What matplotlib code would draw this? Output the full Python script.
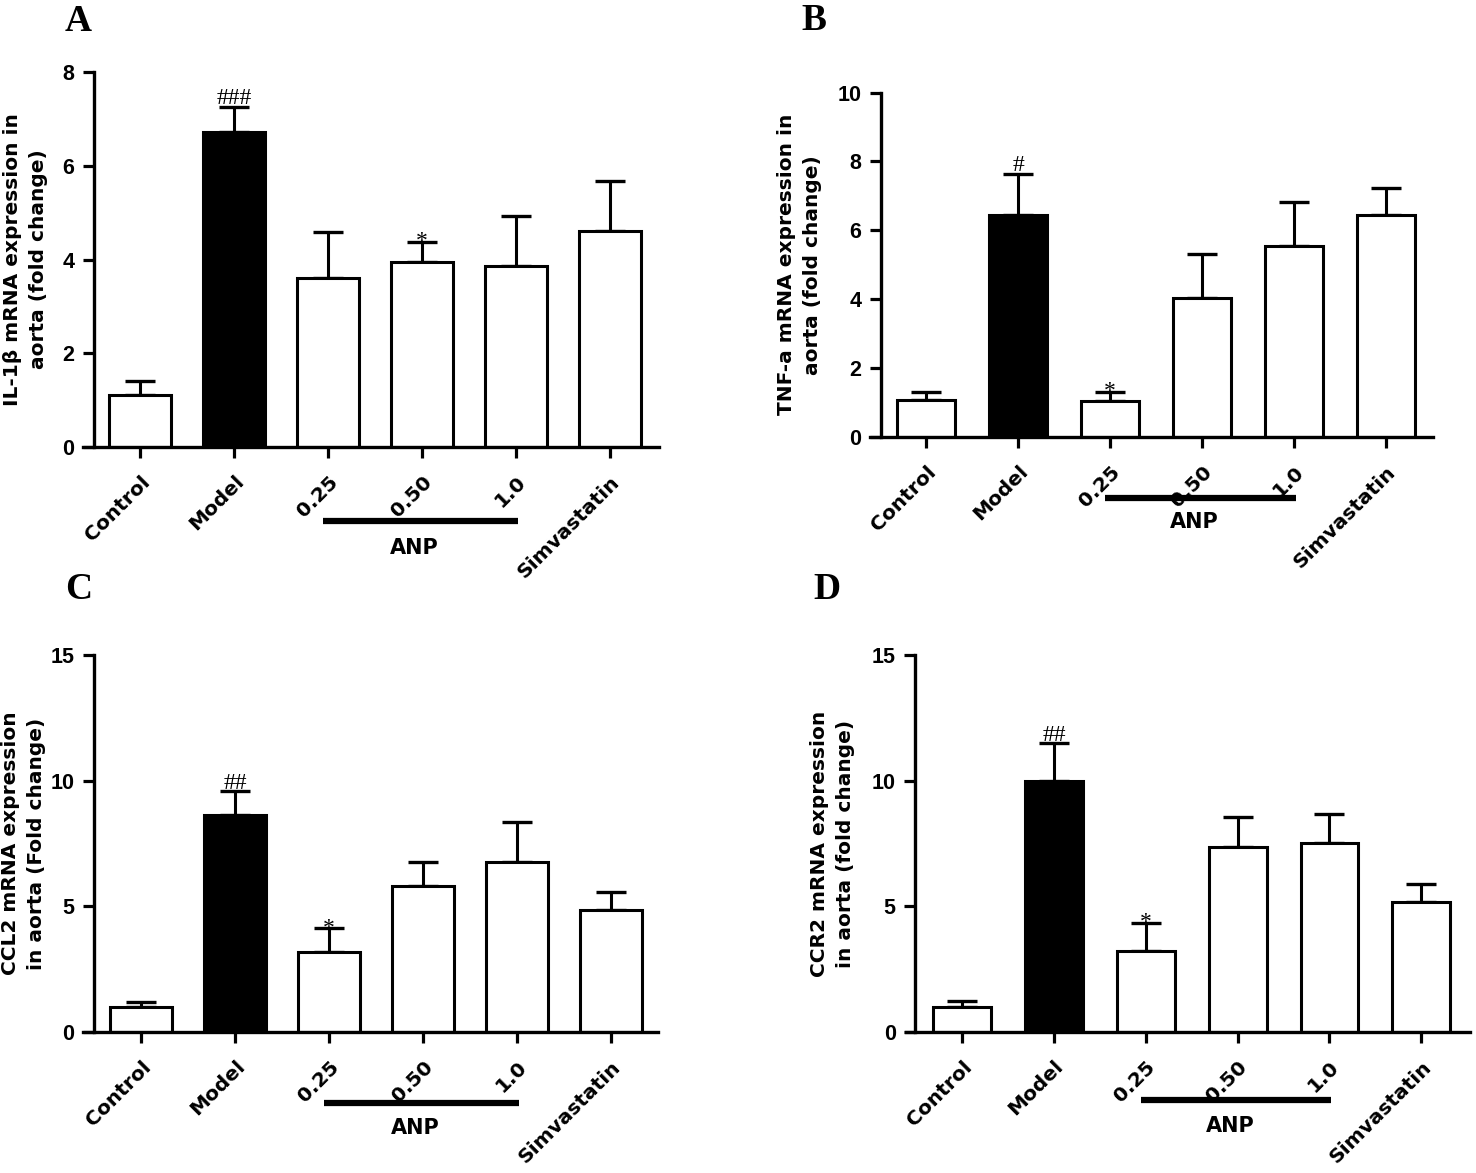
import matplotlib
matplotlib.use("Agg")
import matplotlib.pyplot as plt
import matplotlib.transforms as mtransforms
import numpy as np

# ---------------- data ----------------
categories = ["Control", "Model", "0.25", "0.50", "1.0", "Simvastatin"]
anp_group = [2, 3, 4]  # indices of the ANP doses

il1b_mean = [1.12, 6.73, 3.61, 3.95, 3.86, 4.60]
il1b_sem = [0.29, 0.52, 0.98, 0.43, 1.07, 1.07]
il1b_sig = ["", "###", "", "*", "", ""]

tnfa_mean = [1.08, 6.45, 1.05, 4.05, 5.56, 6.45]
tnfa_sem = [0.23, 1.18, 0.27, 1.26, 1.27, 0.79]
tnfa_sig = ["", "#", "*", "", "", ""]

ccl2_mean = [0.98, 8.64, 3.17, 5.81, 6.76, 4.87]
ccl2_sem = [0.20, 0.93, 0.95, 0.96, 1.61, 0.69]
ccl2_sig = ["", "##", "*", "", "", ""]

ccr2_mean = [1.00, 9.97, 3.21, 7.35, 7.53, 5.17]
ccr2_sem = [0.24, 1.51, 1.13, 1.19, 1.16, 0.73]
ccr2_sig = ["", "##", "*", "", "", ""]

bar_colors = ["white", "black", "white", "white", "white", "white"]

W, H = 1476, 1173
fig = plt.figure(figsize=(W / 100, H / 100), dpi=100)

SANS = ["DejaVu Sans"]
NUM = ["Liberation Sans", "DejaVu Sans"]
SERIF = ["Liberation Serif", "DejaVu Serif"]


def px_axes(left, top, right, bottom):
    return fig.add_axes([left / W, 1 - bottom / H, (right - left) / W, (bottom - top) / H])


panels = [
    dict(letter="A", rect=(83, 72, 659, 447), xlim=(-0.606, 5.521), spine=-0.489,
         ymax=8, yticks=[0, 2, 4, 6, 8], mean=il1b_mean, sem=il1b_sem, sig=il1b_sig,
         ylabel="IL-1β mRNA expression in\naorta (fold change)", labx=-0.1,
         width=0.65, letter_xy=(65, 31), line_y=-0.197, anp_y=-0.269),
    dict(letter="B", rect=(870, 92.6, 1433, 437), xlim=(-0.609, 5.511), spine=-0.489,
         ymax=10, yticks=[0, 2, 4, 6, 8, 10], mean=tnfa_mean, sem=tnfa_sem, sig=tnfa_sig,
         ylabel="TNF-a mRNA expression in\naorta (fold change)", labx=-0.125,
         width=0.63, letter_xy=(801, 30), line_y=-0.177, anp_y=-0.247),
    dict(letter="C", rect=(83, 655, 658, 1032), xlim=(-0.617, 5.5), spine=-0.5,
         ymax=15, yticks=[0, 5, 10, 15], mean=ccl2_mean, sem=ccl2_sem, sig=ccl2_sig,
         ylabel="CCL2 mRNA expression\nin aorta (Fold change)", labx=-0.104,
         width=0.65, letter_xy=(65, 599), line_y=-0.188, anp_y=-0.255),
    dict(letter="D", rect=(906, 655, 1470, 1032), xlim=(-0.61, 5.53), spine=-0.51,
         ymax=15, yticks=[0, 5, 10, 15], mean=ccr2_mean, sem=ccr2_sem, sig=ccr2_sig,
         ylabel="CCR2 mRNA expression\nin aorta (fold change)", labx=-0.13,
         width=0.63, letter_xy=(813, 599), line_y=-0.180, anp_y=-0.249),
]

for p in panels:
    ax = px_axes(*p["rect"])
    x = np.arange(len(categories))
    mean = np.array(p["mean"])
    sem = np.array(p["sem"])

    # spines first (set_position resets the tick settings)
    for side in ("top", "right"):
        ax.spines[side].set_visible(False)
    ax.spines["left"].set_position(("data", p["spine"]))
    ax.spines["left"].set_linewidth(2.4)
    ax.spines["bottom"].set_linewidth(2.4)

    ax.errorbar(x, mean, yerr=[np.zeros_like(sem), sem], fmt="none", ecolor="black",
                elinewidth=2.2, capsize=11, capthick=2.4, zorder=1.5)
    ax.bar(x, mean, width=p["width"], color=bar_colors, edgecolor="black",
           linewidth=2.2, zorder=2)

    for xi, m, s, lab in zip(x, mean, sem, p["sig"]):
        if lab:
            dy = 2 if lab.startswith("#") else -4
            ax.annotate(lab, (xi, m + s), xytext=(0, dy), textcoords="offset points",
                        ha="center", va="baseline", fontsize=17, family=SERIF,
                        color="black", zorder=3)

    ax.set_xlim(*p["xlim"])
    ax.set_ylim(0, p["ymax"])
    ax.set_yticks(p["yticks"])
    ax.set_yticklabels([str(t) for t in p["yticks"]], fontsize=15.5, fontweight="bold",
                       family=NUM)
    ax.set_xticks(x)
    ax.set_xticklabels(categories, rotation=45, ha="right", rotation_mode="anchor",
                       fontsize=14.5, fontweight="bold", family=SANS)

    ax.tick_params(axis="y", direction="out", length=8, width=2.3, pad=6)
    ax.tick_params(axis="x", direction="out", length=8, width=2.3, pad=10)

    ax.set_ylabel(p["ylabel"], fontsize=14.5, fontweight="bold", family=SANS,
                  linespacing=1.45, va="center", ha="center")
    ax.yaxis.set_label_coords(p["labx"], 0.5)

    trans = mtransforms.blended_transform_factory(ax.transData, ax.transAxes)
    ax.plot([anp_group[0] - 0.05, anp_group[-1] + 0.02], [p["line_y"], p["line_y"]],
            transform=trans, clip_on=False, color="black", lw=4.5, solid_capstyle="butt")
    ax.text(np.mean(anp_group) - 0.08, p["anp_y"], "ANP", transform=trans, ha="center",
            va="center", fontsize=15, fontweight="bold", family=SANS)

    lx, ly = p["letter_xy"]
    fig.text(lx / W, 1 - ly / H, p["letter"], fontsize=27, fontweight="bold",
             family=SERIF, ha="left", va="baseline")

fig.savefig("out.png", dpi=100, facecolor="white")
